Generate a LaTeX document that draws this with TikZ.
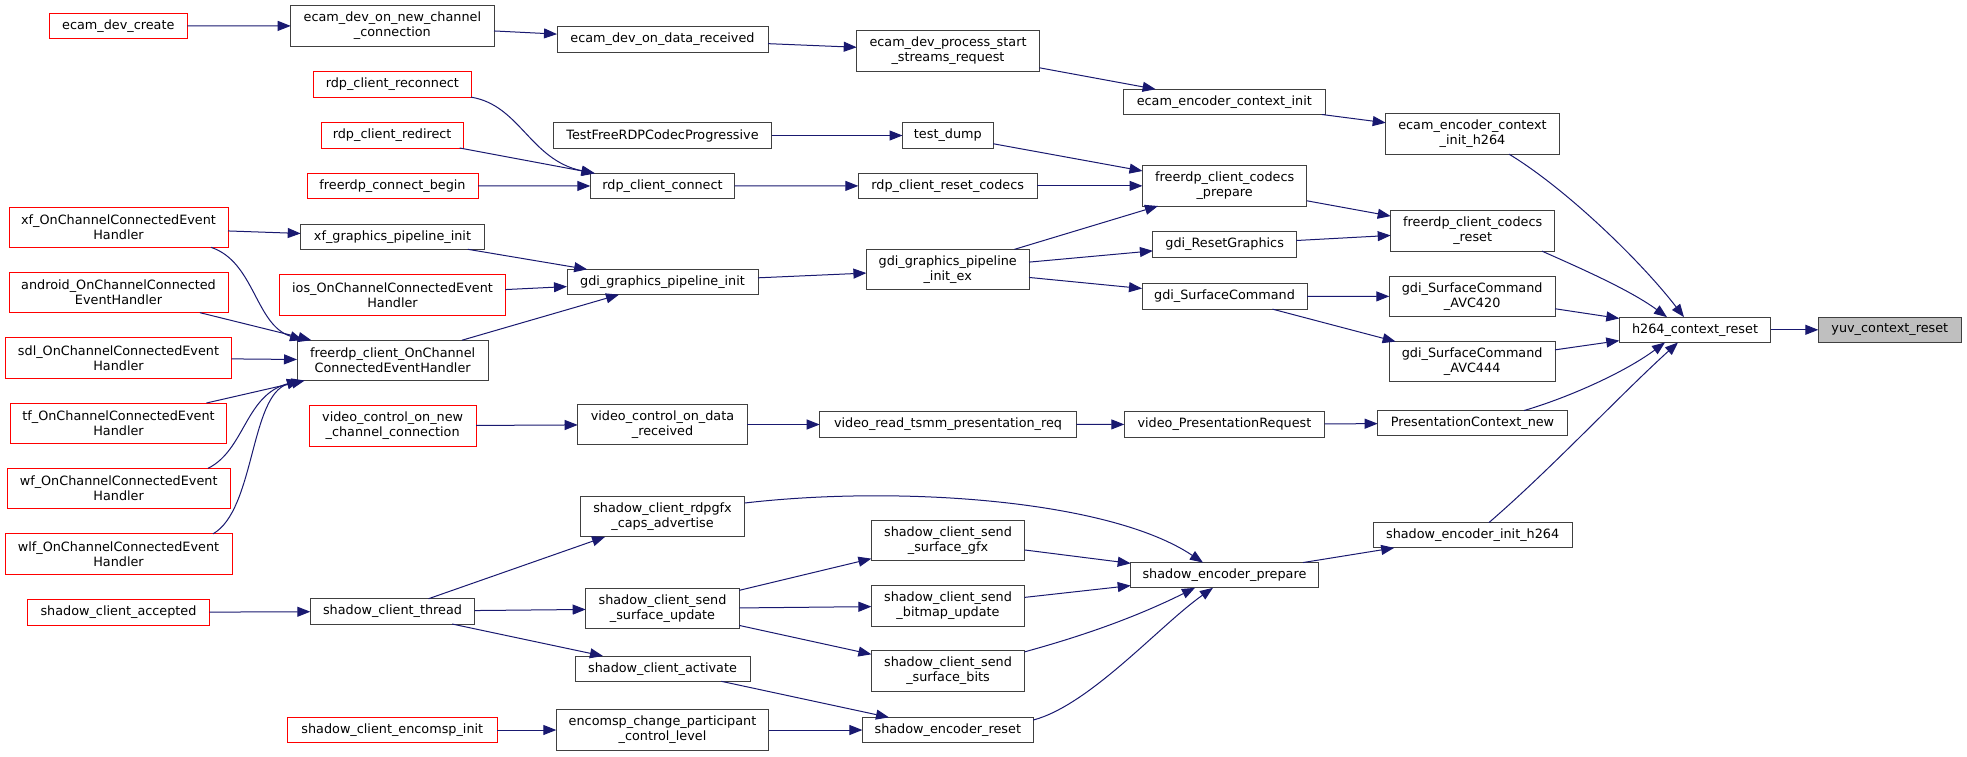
\documentclass[tikz,border=0pt]{standalone}
\usepackage{fontspec}
\setmainfont{DejaVu Sans}
\usetikzlibrary{arrows.meta}
\definecolor{edgeblue}{HTML}{191970}
\definecolor{boxgray}{HTML}{404040}
\definecolor{rootfill}{HTML}{BFBFBF}
\begin{document}
\begin{tikzpicture}[x=1pt,y=-1pt,
  box/.style={draw=boxgray, line width=1pt, fill=white, inner sep=0pt, outer sep=0pt, align=center, font=\fontsize{12.8}{15}\selectfont},
  redbox/.style={box, draw=red},
  rootbox/.style={box, fill=rootfill},
  one/.style={minimum height=25.3pt},
  two/.style={minimum height=40.3pt},
  conn/.style={draw=edgeblue, line width=1pt, -{Triangle[length=13pt,width=10pt]}}
]
\fill[white] (0,0) rectangle (1967,756);
\useasboundingbox (0,0) rectangle (1967,756);

% column 1
\node[redbox,one,minimum width=138pt] (edc) at (118.3,26) {ecam\_dev\_create};
\node[redbox,two,minimum width=219pt] (xfo) at (118.5,227.15) {xf\_OnChannelConnectedEvent\\Handler};
\node[redbox,two,minimum width=219pt] (and) at (118.5,292.5) {android\_OnChannelConnected\\EventHandler};
\node[redbox,two,minimum width=225.6pt] (sdl) at (118.5,357.85) {sdl\_OnChannelConnectedEvent\\Handler};
\node[redbox,two,minimum width=216.4pt] (tf) at (118.5,423.15) {tf\_OnChannelConnectedEvent\\Handler};
\node[redbox,two,minimum width=223.3pt] (wf) at (118.65,488.5) {wf\_OnChannelConnectedEvent\\Handler};
\node[redbox,two,minimum width=227pt] (wlf) at (118.5,554) {wlf\_OnChannelConnectedEvent\\Handler};
\node[redbox,one,minimum width=181.6pt] (sca) at (118.5,612.5) {shadow\_client\_accepted};

% column 2
\node[box,two,minimum width=203.3pt] (edn) at (392.35,25.85) {ecam\_dev\_on\_new\_channel\\\_connection};
\node[redbox,one,minimum width=157.3pt] (rrc) at (392.35,84.5) {rdp\_client\_reconnect};
\node[redbox,one,minimum width=142.3pt] (rrd) at (392.15,135.35) {rdp\_client\_redirect};
\node[redbox,one,minimum width=171pt] (fcb) at (392.5,185.85) {freerdp\_connect\_begin};
\node[box,one,minimum width=183.6pt] (xfg) at (392.5,236.65) {xf\_graphics\_pipeline\_init};
\node[redbox,two,minimum width=225.6pt] (ios) at (392.5,295) {ios\_OnChannelConnectedEvent\\Handler};
\node[box,two,minimum width=191.3pt] (fon) at (392.65,360.35) {freerdp\_client\_OnChannel\\ConnectedEventHandler};
\node[redbox,two,minimum width=166.7pt] (vcn) at (392.65,425.85) {video\_control\_on\_new\\\_channel\_connection};
\node[box,one,minimum width=164.4pt] (sct) at (392.5,611.35) {shadow\_client\_thread};
\node[redbox,one,minimum width=210pt] (sei) at (392.3,730) {shadow\_client\_encomsp\_init};

% column 3
\node[box,one,minimum width=211pt] (edr) at (662.5,39.35) {ecam\_dev\_on\_data\_received};
\node[box,one,minimum width=218.4pt] (tfp) at (662.5,135.5) {TestFreeRDPCodecProgressive};
\node[box,one,minimum width=144.4pt] (rcc) at (662.5,186) {rdp\_client\_connect};
\node[box,one,minimum width=191pt] (gpi) at (662.5,282) {gdi\_graphics\_pipeline\_init};
\node[box,two,minimum width=169.6pt] (vcd) at (662.5,424.5) {video\_control\_on\_data\\\_received};
\node[box,two,minimum width=164.4pt] (cap) at (662.5,516.7) {shadow\_client\_rdpgfx\\\_caps\_advertise};
\node[box,two,minimum width=153.6pt] (sup) at (662.5,608.7) {shadow\_client\_send\\\_surface\_update};
\node[box,one,minimum width=175pt] (sac) at (662.5,668.65) {shadow\_client\_activate};
\node[box,two,minimum width=212.4pt] (ecp) at (662.5,730) {encomsp\_change\_participant\\\_control\_level};

% column 4
\node[box,two,minimum width=182.6pt] (eps) at (948,51) {ecam\_dev\_process\_start\\\_streams\_request};
\node[box,one,minimum width=90.7pt] (tdm) at (947.85,135.5) {test\_dump};
\node[box,one,minimum width=178.7pt] (rrs) at (947.65,185.85) {rdp\_client\_reset\_codecs};
\node[box,two,minimum width=162.6pt] (gex) at (947.7,269.5) {gdi\_graphics\_pipeline\\\_init\_ex};
\node[box,one,minimum width=256.7pt] (vrt) at (948.05,424.5) {video\_read\_tsmm\_presentation\_req};
\node[box,two,minimum width=153.2pt] (sgf) at (948,540.3) {shadow\_client\_send\\\_surface\_gfx};
\node[box,two,minimum width=153.2pt] (sbm) at (948,605.85) {shadow\_client\_send\\\_bitmap\_update};
\node[box,two,minimum width=153.2pt] (sbt) at (948,671) {shadow\_client\_send\\\_surface\_bits};
\node[box,one,minimum width=170.8pt] (ser) at (947.8,730) {shadow\_encoder\_reset};

% column 5
\node[box,one,minimum width=201.4pt] (eci) at (1224.3,101.85) {ecam\_encoder\_context\_init};
\node[box,two,minimum width=164.3pt] (fcp) at (1224.65,185.85) {freerdp\_client\_codecs\\\_prepare};
\node[box,one,minimum width=143.5pt] (grg) at (1224.65,244.35) {gdi\_ResetGraphics};
\node[box,one,minimum width=165pt] (gsc) at (1224.5,296.5) {gdi\_SurfaceCommand};
\node[box,one,minimum width=200.3pt] (vpr) at (1224.45,424.35) {video\_PresentationRequest};
\node[box,one,minimum width=187.5pt] (spr) at (1224.45,575.2) {shadow\_encoder\_prepare};

% column 6
\node[box,two,minimum width=173.6pt] (ech) at (1472.5,134) {ecam\_encoder\_context\\\_init\_h264};
\node[box,two,minimum width=164pt] (fcr) at (1472.7,231) {freerdp\_client\_codecs\\\_reset};
\node[box,two,minimum width=165.7pt] (a420) at (1472.15,296.3) {gdi\_SurfaceCommand\\\_AVC420};
\node[box,two,minimum width=165.7pt] (a444) at (1472.15,361.7) {gdi\_SurfaceCommand\\\_AVC444};
\node[box,one,minimum width=189.6pt] (pcn) at (1472.5,423.2) {PresentationContext\_new};
\node[box,one,minimum width=198.7pt] (sih) at (1472.65,535.2) {shadow\_encoder\_init\_h264};

% column 7, 8
\node[box,one,minimum width=151.4pt] (h264) at (1695,329.8) {h264\_context\_reset};
\node[rootbox,one,minimum width=143pt] (yuv) at (1889.8,329.8) {yuv\_context\_reset};

% edges
\draw[conn] (edc) -- (edn);
\draw[conn] (edn) -- (edr);
\draw[conn] (edr) -- (eps);
\draw[conn] (eps) -- (eci);
\draw[conn] (eci) -- (ech);
\draw[conn] ([xshift=36.5pt]ech.south) .. controls (1565,188) and (1640,260) .. ([xshift=-11pt]h264.north);
\draw[conn] (rrc.south east) .. controls (520,105) and (530,160) .. ([xshift=4pt]rcc.north west);
\draw[conn] (rrd) -- (rcc);
\draw[conn] (fcb) -- (rcc);
\draw[conn] (rcc) -- (rrs);
\draw[conn] (rrs) -- (fcp);
\draw[conn] (tfp) -- (tdm);
\draw[conn] (tdm) -- (fcp);
\draw[conn] (gex) -- (fcp);
\draw[conn] (fcp) -- (fcr);
\draw[conn] (grg) -- (fcr);
\draw[conn] ([xshift=69.3pt]fcr.south) .. controls (1580,268) and (1630,290) .. ([xshift=-28pt]h264.north);
\draw[conn] (gex) -- (grg);
\draw[conn] (gex) -- (gsc);
\draw[conn] (gsc) -- (a420);
\draw[conn] (gsc) -- (a444);
\draw[conn] (a420) -- (h264);
\draw[conn] (a444) -- (h264);
\draw[conn] (gpi) -- (gex);
\draw[conn] (xfg) -- (gpi);
\draw[conn] (ios) -- (gpi);
\draw[conn] (fon) -- (gpi);
\draw[conn] (xfo) -- (xfg);
\draw[conn] ([xshift=92.5pt]xfo.south) .. controls (255,262) and (255,325) .. ([xshift=6pt]fon.north west);
\draw[conn] (and) -- (fon);
\draw[conn] (sdl) -- (fon);
\draw[conn] (tf) -- (fon);
\draw[conn] ([xshift=89.3pt]wf.north) .. controls (245,450) and (245,395) .. ([xshift=3pt]fon.south west);
\draw[conn] ([xshift=94.5pt]wlf.north) .. controls (255,510) and (250,395) .. ([xshift=3pt]fon.south west);
\draw[conn] (vcn) -- (vcd);
\draw[conn] (vcd) -- (vrt);
\draw[conn] (vrt) -- (vpr);
\draw[conn] (vpr) -- (pcn);
\draw[conn] ([xshift=51.5pt]pcn.north) .. controls (1570,397) and (1625,372) .. ([xshift=-30pt]h264.south);
\draw[conn] ([xshift=16.3pt]sih.north) .. controls (1550,470) and (1620,395) .. ([xshift=-17pt]h264.south);
\draw[conn] (spr) -- (sih);
\draw[conn] ([yshift=13.7pt]cap.east) .. controls (900,485) and (1110,500) .. ([xshift=-21.5pt]spr.north);
\draw[conn] (sgf) -- (spr);
\draw[conn] (sbm) -- (spr);
\draw[conn] ([yshift=-1pt]sbt.north east) .. controls (1075,638) and (1130,620) .. ([xshift=-29.5pt]spr.south);
\draw[conn] ([yshift=-2.7pt]ser.north east) .. controls (1090,705) and (1160,625) .. ([xshift=-11.5pt]spr.south);
\draw[conn] (sup) -- (sgf);
\draw[conn] (sup) -- (sbm);
\draw[conn] (sup) -- (sbt);
\draw[conn] (sct) -- (cap);
\draw[conn] (sct) -- (sup);
\draw[conn] (sct) -- (sac);
\draw[conn] (sca) -- (sct);
\draw[conn] (sac) -- (ser);
\draw[conn] (sei) -- (ecp);
\draw[conn] (ecp) -- (ser);
\draw[conn] (h264) -- (yuv);
\end{tikzpicture}
\end{document}
